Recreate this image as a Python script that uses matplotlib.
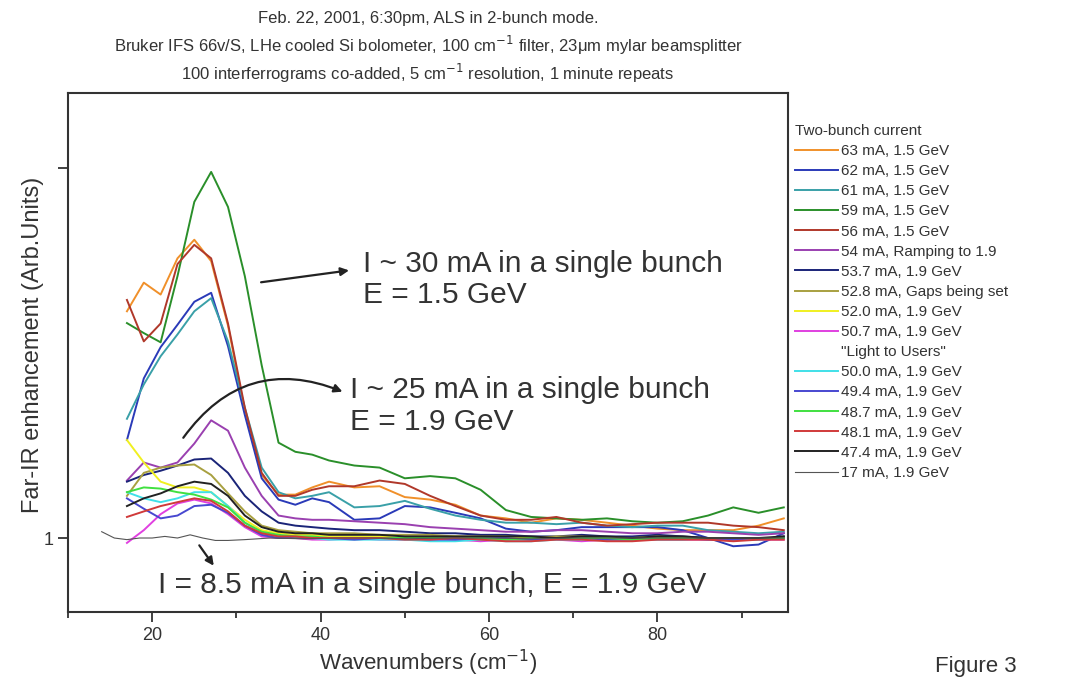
import matplotlib
matplotlib.use('Agg')
import matplotlib.pyplot as plt
from matplotlib.lines import Line2D
from matplotlib.ticker import FixedLocator, NullLocator

plt.rcParams['font.family'] = ['Liberation Sans', 'DejaVu Sans']

# wavenumber grid (cm^-1) shared by the two-bunch spectra
wn = [17, 19, 21, 23, 25, 27, 29, 31, 33, 35, 37, 39, 41, 44, 47, 50, 53, 56,
      59, 62, 65, 68, 71, 74, 77, 80, 83, 86, 89, 92, 95]

# enhancement values, one list per beam current
ma63 = [4.1, 4.9, 4.55, 5.7, 6.4, 5.6, 3.75, 2.2, 1.48, 1.31, 1.31, 1.37, 1.42, 1.37, 1.38, 1.29,
        1.27, 1.23, 1.15, 1.13, 1.10, 1.13, 1.12, 1.10, 1.08, 1.06, 1.05, 1.05, 1.05, 1.08, 1.13]
ma62 = [1.84, 2.7, 3.28, 3.77, 4.35, 4.6, 3.3, 2.15, 1.45, 1.27, 1.23, 1.28, 1.25, 1.12, 1.13, 1.22,
        1.21, 1.17, 1.13, 1.06, 1.04, 1.05, 1.07, 1.07, 1.07, 1.07, 1.05, 1.0, 0.95, 0.96, 1.03]
ma61 = [2.1, 2.6, 3.1, 3.55, 4.1, 4.45, 3.4, 2.25, 1.55, 1.33, 1.28, 1.3, 1.33, 1.21, 1.22, 1.26,
        1.2, 1.15, 1.12, 1.1, 1.1, 1.09, 1.1, 1.08, 1.07, 1.08, 1.08, 1.05, 1.04, 1.03, 1.04]
ma59 = [3.81, 3.58, 3.38, 5.1, 8.1, 9.76, 7.85, 5.1, 2.93, 1.81, 1.71, 1.68, 1.62, 1.57, 1.55, 1.45,
        1.47, 1.45, 1.35, 1.19, 1.14, 1.13, 1.12, 1.13, 1.11, 1.10, 1.11, 1.15, 1.21, 1.17, 1.21]
ma56 = [4.4, 3.4, 3.8, 5.5, 6.2, 5.7, 3.8, 2.25, 1.5, 1.3, 1.3, 1.35, 1.38, 1.38, 1.43, 1.40,
        1.30, 1.22, 1.15, 1.12, 1.12, 1.14, 1.10, 1.08, 1.09, 1.10, 1.10, 1.10, 1.08, 1.07, 1.05]
ma54 = [1.43, 1.6, 1.55, 1.6, 1.8, 2.08, 1.95, 1.55, 1.3, 1.15, 1.13, 1.12, 1.12, 1.11, 1.10, 1.09,
        1.07, 1.06, 1.05, 1.04, 1.04, 1.05, 1.05, 1.04, 1.03, 1.03, 1.04, 1.04, 1.03, 1.02, 1.03]
ma537 = [1.42, 1.48, 1.52, 1.57, 1.63, 1.64, 1.50, 1.30, 1.18, 1.10, 1.08, 1.07, 1.06, 1.05, 1.05, 1.04,
         1.03, 1.03, 1.02, 1.02, 1.01, 1.01, 1.02, 1.01, 1.01, 1.02, 1.01, 1.0, 0.99, 0.99, 1.01]
ma528 = [1.30, 1.50, 1.55, 1.57, 1.58, 1.48, 1.32, 1.18, 1.08, 1.05, 1.04, 1.03, 1.03, 1.03, 1.02, 1.02,
         1.02, 1.01, 1.01, 1.01, 1.0, 1.01, 1.01, 1.0, 1.0, 1.01, 1.0, 1.0, 1.0, 1.0, 1.0]
ma520 = [1.84, 1.60, 1.42, 1.37, 1.37, 1.33, 1.22, 1.12, 1.05, 1.03, 1.02, 1.02, 1.01, 1.01, 1.01, 1.0,
         1.0, 1.01, 1.0, 1.0, 1.0, 1.0, 0.99, 1.0, 1.0, 0.99, 1.0, 1.0, 1.0, 0.99, 1.0]
ma507 = [0.97, 1.05, 1.16, 1.24, 1.27, 1.24, 1.16, 1.07, 1.01, 1.0, 1.0, 0.99, 0.99, 1.0, 0.99, 0.99,
         1.0, 0.99, 0.98, 0.99, 0.99, 0.99, 0.98, 0.99, 0.99, 0.99, 0.99, 0.99, 1.0, 0.99, 0.99]
ma500 = [1.33, 1.28, 1.25, 1.28, 1.33, 1.33, 1.22, 1.10, 1.03, 1.01, 1.0, 1.0, 0.99, 0.99, 0.99, 0.99,
         0.98, 0.98, 0.99, 0.98, 0.98, 0.99, 0.99, 0.99, 0.99, 0.99, 0.99, 1.0, 0.99, 0.99, 1.0]
ma494 = [1.28, 1.20, 1.13, 1.15, 1.22, 1.23, 1.17, 1.08, 1.02, 1.0, 1.0, 1.0, 1.0, 0.99, 1.0, 1.0,
         0.99, 0.99, 1.0, 1.0, 0.99, 1.0, 1.0, 0.99, 0.99, 1.0, 1.0, 0.99, 0.99, 1.0, 1.0]
ma487 = [1.33, 1.37, 1.36, 1.33, 1.31, 1.27, 1.21, 1.10, 1.04, 1.02, 1.01, 1.01, 1.0, 1.0, 1.0, 1.0,
         1.0, 1.0, 1.0, 0.99, 1.0, 1.0, 1.0, 1.0, 0.99, 1.0, 1.0, 1.0, 1.0, 1.0, 1.0]
ma481 = [1.14, 1.18, 1.22, 1.25, 1.28, 1.26, 1.18, 1.08, 1.03, 1.01, 1.01, 1.0, 1.0, 1.0, 1.0, 0.99,
         0.99, 1.0, 0.99, 0.98, 0.98, 0.99, 0.99, 0.98, 0.98, 0.99, 0.99, 0.99, 0.98, 0.99, 0.99]
ma474 = [1.22, 1.28, 1.32, 1.38, 1.42, 1.40, 1.30, 1.15, 1.07, 1.04, 1.03, 1.03, 1.02, 1.02, 1.02, 1.01,
         1.01, 1.01, 1.01, 1.01, 1.01, 1.0, 1.01, 1.01, 1.0, 1.01, 1.01, 1.0, 1.0, 1.0, 1.01]

# single-bunch reference (17 mA) has its own grid
wn_ref = [14, 15.5, 17, 18.5, 20, 21.5, 23, 24.5, 26, 27.5, 29, 31, 34, 38, 42, 46, 50, 55, 60,
          65, 70, 75, 80, 85, 90, 95]
ma17 = [1.04, 1.0, 0.99, 1.0, 1.0, 1.01, 1.0, 1.02, 1.0, 0.985, 0.985, 0.99, 1.0, 0.995, 1.0,
        1.0, 0.995, 1.0, 1.0, 0.995, 1.0, 1.0, 1.0, 1.0, 1.0, 1.0]

labels = ['63 mA, 1.5 GeV', '62 mA, 1.5 GeV', '61 mA, 1.5 GeV', '59 mA, 1.5 GeV',
          '56 mA, 1.5 GeV', '54 mA, Ramping to 1.9', '53.7 mA, 1.9 GeV',
          '52.8 mA, Gaps being set', '52.0 mA, 1.9 GeV', '50.7 mA, 1.9 GeV',
          '50.0 mA, 1.9 GeV', '49.4 mA, 1.9 GeV', '48.7 mA, 1.9 GeV',
          '48.1 mA, 1.9 GeV', '47.4 mA, 1.9 GeV']
series = [ma63, ma62, ma61, ma59, ma56, ma54, ma537, ma528, ma520, ma507,
          ma500, ma494, ma487, ma481, ma474]
colors = ['#f0902a', '#2a3ab8', '#3aa0a8', '#2a8f2a', '#b0382a', '#9a40b0', '#1a2478',
          '#a8a040', '#f0f020', '#e040e0', '#40e0e8', '#4848d0', '#40e040', '#d03a3a', '#222222']

txt = '#333333'

fig = plt.figure(figsize=(10.7, 6.79), dpi=100)
ax = fig.add_axes([68/1070, 67/679, 720/1070, 519/679])

handles = []
for y, c, lab in zip(series, colors, labels):
    h, = ax.plot(wn, y, color=c, lw=1.4, label=lab)
    handles.append(h)
h17, = ax.plot(wn_ref, ma17, color='#555555', lw=0.8, label='17 mA, 1.9 GeV')

ax.set_yscale('log')
ax.set_xlim(10, 95.5)
ax.set_ylim(0.631, 15.95)
ax.yaxis.set_major_locator(FixedLocator([1, 10]))
ax.yaxis.set_minor_locator(NullLocator())
ax.set_yticklabels(['1', ''])
ax.set_xticks([20, 40, 60, 80])
ax.xaxis.set_minor_locator(FixedLocator([10, 30, 50, 70, 90]))
ax.tick_params(which='major', direction='out', length=7, width=1.3, colors='#333333',
               labelsize=13, labelcolor=txt)
ax.tick_params(which='minor', direction='out', length=4, width=1.3, colors='#333333')
for s in ax.spines.values():
    s.set_linewidth(1.5)
    s.set_color('#333333')

ax.set_xlabel('Wavenumbers (cm$^{-1}$)', fontsize=16, color=txt, va='center')
ax.xaxis.set_label_coords(0.5, -0.098)
ax.set_ylabel('Far-IR enhancement (Arb.Units)', fontsize=17, color=txt, va='center')
ax.yaxis.set_label_coords(-0.049, 0.514)

# annotations
ax.annotate('', xy=(43.7, 5.3), xytext=(32.6, 4.9),
            arrowprops=dict(arrowstyle='-|>', color='#222222', lw=1.6, mutation_scale=12))
ax.text(45.0, 5.5, 'I ~ 30 mA in a single bunch', fontsize=21.5, color=txt, va='center')
ax.text(45.0, 4.55, 'E = 1.5 GeV', fontsize=21.5, color=txt, va='center')

ax.annotate('', xy=(42.9, 2.47), xytext=(23.5, 1.84),
            arrowprops=dict(arrowstyle='-|>', color='#222222', lw=1.6, mutation_scale=12,
                            connectionstyle='arc3,rad=-0.4'))
ax.text(43.5, 2.51, 'I ~ 25 mA in a single bunch', fontsize=21.5, color=txt, va='center')
ax.text(43.5, 2.06, 'E = 1.9 GeV', fontsize=21.5, color=txt, va='center')

ax.annotate('', xy=(27.5, 0.83), xytext=(25.4, 0.969),
            arrowprops=dict(arrowstyle='-|>', color='#222222', lw=1.6, mutation_scale=12))
ax.text(20.7, 0.746, 'I = 8.5 mA in a single bunch, E = 1.9 GeV', fontsize=21.5, color=txt,
        va='center')

# header lines
fig.text(0.4, 1 - 18/679, 'Feb. 22, 2001, 6:30pm, ALS in 2-bunch mode.', ha='center',
         va='center', fontsize=12, color=txt)
fig.text(0.4, 1 - 45/679, 'Bruker IFS 66v/S, LHe cooled Si bolometer, 100 cm$^{-1}$ filter, '
         '23\u03bcm mylar beamsplitter', ha='center', va='center', fontsize=12, color=txt)
fig.text(0.4, 1 - 73/679, '100 interferrograms co-added, 5 cm$^{-1}$ resolution, 1 minute repeats',
         ha='center', va='center', fontsize=12, color=txt)

fig.text(935/1070, 1 - 677/679, 'Figure 3', fontsize=16, color=txt, va='bottom')

# legend with a blank row for "Light to Users"
blank = Line2D([], [], color='none')
leg_handles = handles[:10] + [blank] + handles[10:] + [h17]
leg_labels = labels[:10] + ['"Light to Users"'] + labels[10:] + ['17 mA, 1.9 GeV']
leg = ax.legend(leg_handles, leg_labels, loc='upper left',
                bbox_to_anchor=(795/1070, 1 - 124/679), bbox_transform=fig.transFigure,
                frameon=False, title='Two-bunch current', fontsize=11,
                title_fontsize=11, handlelength=2.8, handletextpad=0.2,
                labelspacing=0.4, borderpad=0, borderaxespad=0, alignment='left')
for t in leg.get_texts():
    t.set_color(txt)
leg.get_title().set_color(txt)

fig.savefig('out.png', dpi=100)
